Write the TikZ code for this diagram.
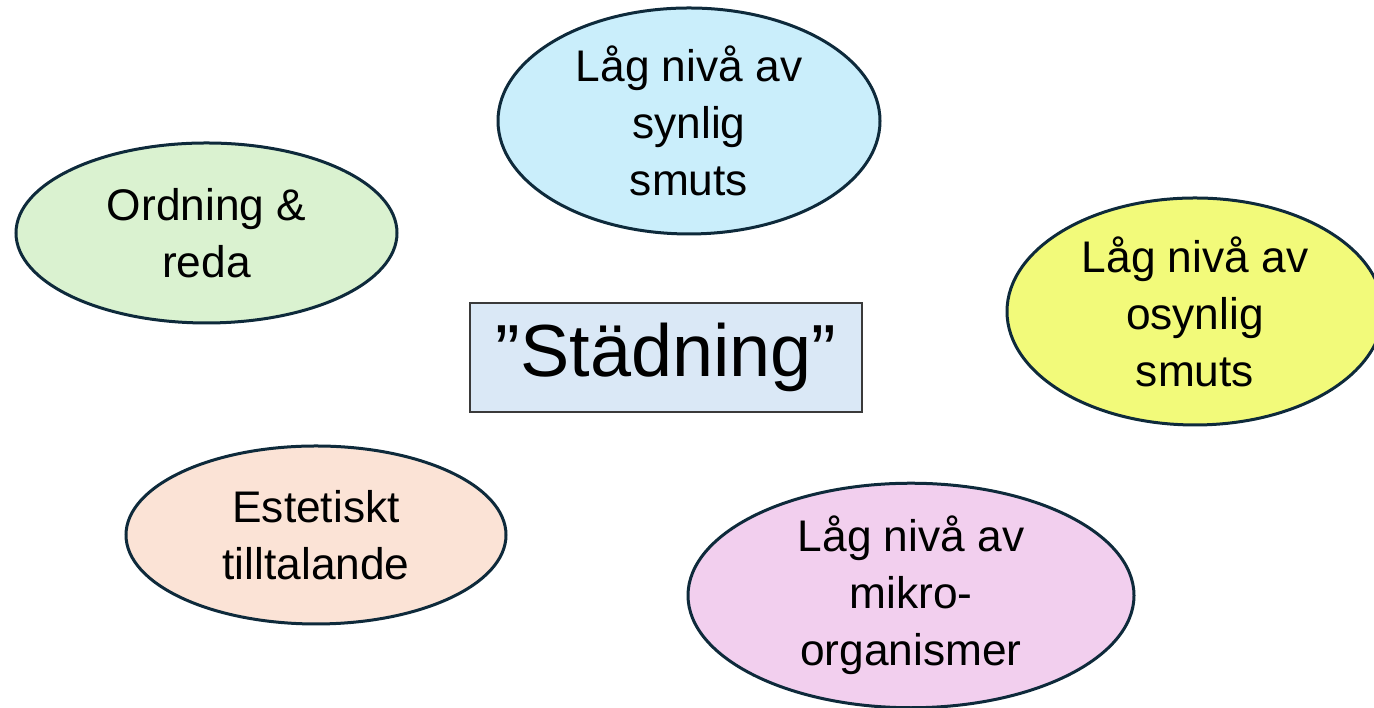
\documentclass[tikz,border=0pt]{standalone}
\usepackage{fontspec}
\setmainfont{Liberation Sans}
\usetikzlibrary{shapes.geometric}
\definecolor{RimNavy}{HTML}{0E2A3B}
\definecolor{SkyFill}{HTML}{CAEEFB}
\definecolor{MintFill}{HTML}{DAF2D0}
\definecolor{LemonFill}{HTML}{F2FA7A}
\definecolor{PeachFill}{HTML}{FBE3D6}
\definecolor{LilacFill}{HTML}{F2CFEE}
\definecolor{TitleFill}{HTML}{DAE8F6}
\definecolor{TitleRim}{HTML}{3A3A3A}
\tikzset{
    bubble/.style={
        ellipse,
        draw=RimNavy,
        line width=0.03cm,
        fill=#1,
        inner sep=0pt,
        text=black,
        font=\fontsize{12.6}{16.2}\selectfont,
        align=center
    },
    bubble/.default=SkyFill,
    titlebox/.style={
        rectangle,
        draw=TitleRim,
        line width=0.015cm,
        fill=TitleFill,
        minimum width=3.92cm,
        minimum height=1.09cm,
        text=black,
        font=\fontsize{21}{25}\selectfont,
        align=center
    }
}

\begin{document}
\begin{tikzpicture}
        \useasboundingbox (0,0) rectangle (13.74,7.08);

        % Centre
        \node[titlebox] (stad) at (6.66,3.505) {”Städning”};

        % Around
        \node[bubble=SkyFill, minimum width=3.82cm, minimum height=2.26cm] (synlig) at (6.89,5.87) {Låg nivå av\\synlig\\smuts};
        \node[bubble=MintFill, minimum width=3.81cm, minimum height=1.80cm] (ordning) at (2.065,4.75) {Ordning \&\\reda};
        \node[bubble=LemonFill, minimum width=3.76cm, minimum height=2.27cm] (osynlig) at (11.95,3.965) {Låg nivå av\\osynlig\\smuts};
        \node[bubble=PeachFill, minimum width=3.80cm, minimum height=1.78cm] (estetik) at (3.16,1.73) {Estetiskt\\tilltalande};
        \node[bubble=LilacFill, minimum width=4.46cm, minimum height=2.21cm] (mikro) at (9.11,1.125) {Låg nivå av\\mikro-\\organismer};
    \end{tikzpicture}
\end{document}
